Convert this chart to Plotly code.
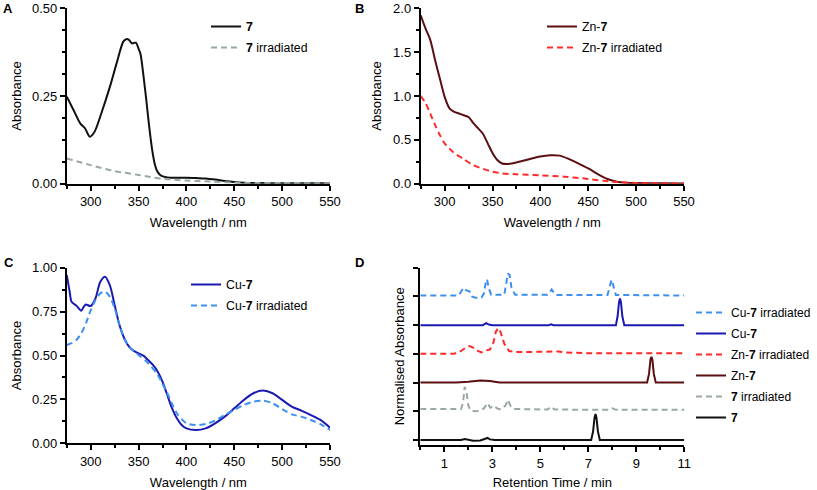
import plotly.graph_objects as go

# ---------------- data ----------------
# Panel A
wl_7 = [275, 282, 289, 294, 299, 304, 311, 320, 327, 334, 337, 340, 343, 347, 350, 352, 355, 358,
        361, 364, 367, 370, 374, 380, 390, 400, 410, 420, 430, 440, 450, 460, 475, 500, 525, 550]
abs_7 = [0.248, 0.21, 0.172, 0.158, 0.134, 0.148, 0.20, 0.276, 0.343, 0.405, 0.412, 0.41, 0.40, 0.402,
         0.385, 0.37, 0.31, 0.24, 0.165, 0.10, 0.055, 0.033, 0.022, 0.018, 0.017, 0.017, 0.016, 0.015,
         0.012, 0.008, 0.005, 0.003, 0.002, 0.001, 0.001, 0.001]
wl_7i = [275, 300, 325, 350, 375, 400, 425, 450, 475, 500, 550]
abs_7i = [0.072, 0.053, 0.036, 0.025, 0.014, 0.009, 0.006, 0.003, 0.002, 0.002, 0.001]

# Panel B
wl_zn = [275, 280, 285, 290, 295, 300, 305, 310, 315, 320, 325, 330, 335, 340, 345, 350, 355, 360,
         365, 370, 380, 390, 400, 410, 420, 430, 440, 450, 460, 470, 480, 490, 500, 525, 550]
abs_zn = [1.92, 1.77, 1.64, 1.41, 1.20, 0.99, 0.86, 0.82, 0.80, 0.78, 0.76, 0.69, 0.63, 0.57, 0.46,
          0.35, 0.27, 0.23, 0.225, 0.23, 0.255, 0.285, 0.31, 0.325, 0.32, 0.28, 0.23, 0.175, 0.11,
          0.054, 0.023, 0.012, 0.008, 0.004, 0.003]
wl_zni = [275, 280, 285, 290, 295, 300, 305, 310, 320, 330, 340, 350, 360, 375, 400, 425, 450, 475, 500, 550]
abs_zni = [1.00, 0.92, 0.80, 0.67, 0.555, 0.46, 0.40, 0.35, 0.28, 0.21, 0.17, 0.137, 0.118, 0.107,
           0.096, 0.08, 0.054, 0.023, 0.008, 0.003]

# Panel C
wl_cu = [275, 278, 280, 285, 290, 293, 295, 300, 305, 310, 315, 320, 325, 330, 335, 340, 345, 350,
         355, 360, 365, 370, 375, 380, 385, 390, 395, 400, 410, 420, 430, 440, 450, 460, 470, 480,
         490, 500, 510, 520, 530, 540, 550]
abs_cu = [0.958, 0.863, 0.806, 0.784, 0.755, 0.78, 0.79, 0.782, 0.826, 0.92, 0.949, 0.90, 0.787,
          0.674, 0.598, 0.55, 0.526, 0.512, 0.499, 0.474, 0.446, 0.408, 0.351, 0.275, 0.199, 0.142,
          0.104, 0.085, 0.076, 0.085, 0.114, 0.152, 0.199, 0.247, 0.285, 0.30, 0.285, 0.247, 0.209,
          0.186, 0.161, 0.133, 0.089]
wl_cui = [275, 280, 285, 290, 295, 300, 305, 310, 315, 320, 325, 330, 335, 340, 350, 360, 370, 380,
          390, 400, 410, 420, 430, 440, 450, 460, 470, 480, 490, 500, 510, 520, 530, 540, 550]
abs_cui = [0.56, 0.57, 0.588, 0.626, 0.683, 0.759, 0.816, 0.854, 0.863, 0.835, 0.769, 0.674, 0.598,
           0.55, 0.503, 0.456, 0.389, 0.285, 0.171, 0.114, 0.104, 0.11, 0.129, 0.161, 0.19, 0.218,
           0.237, 0.243, 0.228, 0.195, 0.165, 0.152, 0.133, 0.109, 0.076]

# Panel D (normalised chromatograms, stacked with offsets)
rt_7 = [0, 1.7, 1.85, 2.0, 2.2, 2.5, 2.7, 2.8, 2.9, 3.1, 7.12, 7.2, 7.26, 7.3, 7.34, 7.4, 7.48, 11]
na_7 = [0, 0, 0.03, 0, -0.03, -0.02, 0.03, 0.07, 0.02, 0, 0, 0.3, 0.78, 0.9, 0.78, 0.3, 0, 0]
rt_7i = [0, 1.7, 1.78, 1.85, 1.92, 2.0, 2.1, 2.3, 2.5, 2.65, 2.8, 2.92, 3.05, 3.2, 3.35, 3.55, 3.65,
         3.75, 3.9, 5.3, 5.45, 5.6, 7.85, 8.0, 8.15, 11]
na_7i = [0.08, 0.08, 0.3, 0.85, 0.7, 0.2, 0.02, 0.0, 0.02, 0.1, 0.28, 0.12, 0.2, 0.1, 0.06, 0.2, 0.4,
         0.2, 0.08, 0.06, 0.16, 0.06, 0.05, 0.1, 0.05, 0.05]
rt_zn = [0, 1.5, 2.0, 2.5, 2.9, 3.3, 9.45, 9.53, 9.59, 9.63, 9.67, 9.73, 9.81, 11]
na_zn = [0, 0, 0.03, 0.07, 0.05, 0, 0, 0.3, 0.8, 0.9, 0.8, 0.3, 0, 0]
rt_zni = [0, 1.4, 1.7, 1.9, 2.05, 2.2, 2.4, 2.55, 2.75, 2.9, 3.05, 3.15, 3.25, 3.35, 3.5, 3.7, 4.0,
          5.5, 5.75, 6.0, 7.0, 11]
na_zni = [0, 0, 0.1, 0.22, 0.27, 0.22, 0.1, 0.05, 0.12, 0.15, 0.4, 0.78, 0.9, 0.75, 0.35, 0.1, 0.06,
          0.06, 0.08, 0.05, 0.02, 0.02]
rt_cu = [0, 1.8, 2.0, 2.3, 2.6, 2.75, 2.85, 3.0, 5.35, 5.45, 5.55, 8.15, 8.22, 8.28, 8.32, 8.36,
         8.42, 8.5, 10.15, 10.25, 10.35, 11]
na_cu = [0, 0, -0.02, -0.02, 0, 0.07, 0.02, 0, 0, 0.03, 0, 0, 0.3, 0.8, 0.93, 0.8, 0.3, 0, 0, 0.02, 0, 0]
rt_cui = [0, 1.6, 1.72, 1.8, 1.9, 2.05, 2.15, 2.3, 2.55, 2.65, 2.72, 2.78, 2.85, 2.95, 3.5, 3.58,
          3.65, 3.72, 3.8, 3.95, 5.3, 5.4, 5.47, 5.55, 5.65, 7.8, 7.9, 7.97, 8.05, 8.15, 11]
na_cui = [0.03, 0.03, 0.2, 0.3, 0.22, 0.18, 0.0, -0.05, -0.04, 0.1, 0.45, 0.6, 0.3, 0.06, 0.06, 0.4,
          0.8, 0.75, 0.3, 0.06, 0.06, 0.15, 0.24, 0.15, 0.05, 0.05, 0.4, 0.58, 0.35, 0.05, 0.03]
offsets_d = [0, 1, 2, 3, 4, 5]

# ---------------- style ----------------
C_7 = "#111111"
C_7I = "#9aa8a2"
C_ZN = "#5c0f12"
C_ZNI = "#ff2a2a"
C_CU = "#1a1ab0"
C_CUI = "#3d8ff0"
FONT = "Liberation Sans, Arial, Helvetica, sans-serif"
DASH = "6px,4px"

fig = go.Figure()

def add(x, y, name, color, dash, xa, ya, legend, shape="spline"):
    fig.add_trace(go.Scatter(
        x=x, y=y, name=name, mode="lines",
        line=dict(color=color, width=2, dash=dash, shape=shape, smoothing=0.8 if shape == "spline" else None),
        xaxis=xa, yaxis=ya, legend=legend, legendgroup=name, hoverinfo="skip"))

# A
add(wl_7, abs_7, "<b>7</b>", C_7, "solid", "x", "y", "legend")
add(wl_7i, abs_7i, "<b>7</b> irradiated", C_7I, DASH, "x", "y", "legend")
# B
add(wl_zn, abs_zn, "Zn-<b>7</b>", C_ZN, "solid", "x2", "y2", "legend2")
add(wl_zni, abs_zni, "Zn-<b>7</b> irradiated", C_ZNI, DASH, "x2", "y2", "legend2")
# C
add(wl_cu, abs_cu, "Cu-<b>7</b>", C_CU, "solid", "x3", "y3", "legend3")
add(wl_cui, abs_cui, "Cu-<b>7</b> irradiated", C_CUI, DASH, "x3", "y3", "legend3")
# D (legend order top to bottom)
d_series = [
    (rt_cui, na_cui, offsets_d[5], "Cu-<b>7</b> irradiated", C_CUI, DASH),
    (rt_cu, na_cu, offsets_d[4], "Cu-<b>7</b>", C_CU, "solid"),
    (rt_zni, na_zni, offsets_d[3], "Zn-<b>7</b> irradiated", C_ZNI, DASH),
    (rt_zn, na_zn, offsets_d[2], "Zn-<b>7</b>", C_ZN, "solid"),
    (rt_7i, na_7i, offsets_d[1], "<b>7</b> irradiated", C_7I, DASH),
    (rt_7, na_7, offsets_d[0], "<b>7</b>", C_7, "solid"),
]
for rt, na, off, name, col, dash in d_series:
    add(rt, [v + off for v in na], name, col, dash, "x4", "y4", "legend4", shape="linear")

W, H = 817, 490
def px(x0, x1):
    return [x0 / W, x1 / W]
def py(ytop, ybot):
    return [1 - ybot / H, 1 - ytop / H]

axis_common = dict(showline=True, linecolor="black", linewidth=1.8, ticks="outside", ticklen=5,
                   tickwidth=1.5, tickcolor="black", showgrid=False, zeroline=False,
                   automargin=False,
                   tickfont=dict(family=FONT, size=13, color="black"))
minor_common = dict(ticks="outside", ticklen=3, tickwidth=1.5, tickcolor="black", showgrid=False)
TF = dict(family=FONT, size=13, color="black")

def wl_axis(domain, anchor):
    return dict(axis_common, domain=domain, anchor=anchor, range=[275, 550],
                tickvals=[300, 350, 400, 450, 500, 550],
                minor=dict(minor_common, tick0=275, dtick=25),
                title=dict(text="Wavelength / nm", standoff=10, font=TF))

def abs_axis(domain, anchor, rng, dtick, mdtick, fmt, standoff=7):
    return dict(axis_common, domain=domain, anchor=anchor, range=rng, dtick=dtick, tick0=0,
                tickformat=fmt, minor=dict(minor_common, tick0=0, dtick=mdtick),
                title=dict(text="Absorbance", standoff=standoff, font=TF))

legend_common = dict(font=dict(family=FONT, size=12.3, color="black"), bgcolor="rgba(0,0,0,0)",
                     xanchor="left", yanchor="top", traceorder="grouped", tracegroupgap=2,
                     itemwidth=30)

fig.update_layout(
    width=W, height=H, margin=dict(l=0, r=0, t=0, b=0, autoexpand=False),
    paper_bgcolor="white", plot_bgcolor="white",
    font=dict(family=FONT, size=13, color="black"),
    xaxis=wl_axis(px(66.8, 330), "y"),
    yaxis=abs_axis(py(8.3, 183.7), "x", [0, 0.5], 0.25, 0.0625, ".2f"),
    xaxis2=wl_axis(px(420.7, 684), "y2"),
    yaxis2=abs_axis(py(8.3, 183.7), "x2", [0, 2], 0.5, 0.25, ".1f", standoff=9),
    xaxis3=wl_axis(px(66.8, 330), "y3"),
    yaxis3=abs_axis(py(267.7, 443.3), "x3", [0, 1], 0.25, 0.125, ".2f"),
    xaxis4=dict(axis_common, domain=px(420.3, 684.3), anchor="y4", range=[0, 11],
                tickvals=[1, 3, 5, 7, 9, 11],
                minor=dict(minor_common, tick0=0, dtick=1),
                title=dict(text="Retention Time / min", standoff=10, font=TF)),
    yaxis4=dict(axis_common, domain=py(267.7, 445), anchor="x4", range=[-0.175, 6],
                tickvals=[0, 1, 2, 3, 4, 5, 6], showticklabels=False,
                title=dict(text="Normalised Absorbance", standoff=6, font=TF)),
    legend=dict(legend_common, x=206 / W, y=1 - 12 / H),
    legend2=dict(legend_common, x=542 / W, y=1 - 12 / H),
    legend3=dict(legend_common, x=186 / W, y=1 - 270 / H),
    legend4=dict(legend_common, x=691 / W, y=1 - 298 / H, font=dict(family=FONT, size=12, color="black")),
    showlegend=True,
)

for txt, x, y in [("A", 7.5, 8.5), ("B", 359, 8.5), ("C", 8.5, 262.5), ("D", 359, 262.5)]:
    fig.add_annotation(text=f"<b>{txt}</b>", x=x / W, y=1 - y / H, xref="paper", yref="paper",
                       showarrow=False, xanchor="center", yanchor="middle",
                       font=dict(family=FONT, size=13, color="black"))

fig.write_html("out.html", config={"displayModeBar": False},
               post_script="document.body.style.margin='0';document.body.style.overflow='hidden';")
